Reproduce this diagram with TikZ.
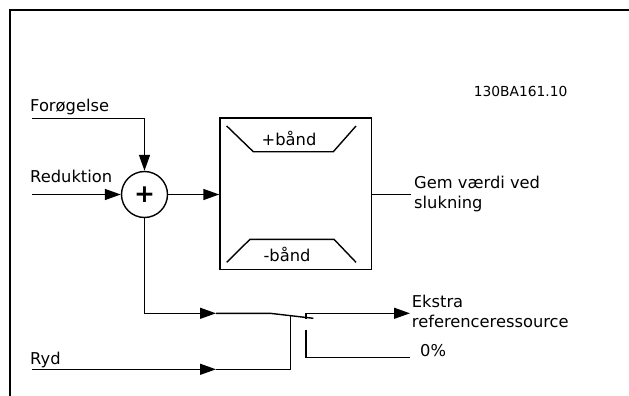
\documentclass[tikz,border=0pt]{standalone}
\usepackage{fontspec}
\setmainfont{DejaVu Sans}
\usetikzlibrary{arrows.meta}
\begin{document}
\begin{tikzpicture}[x=1pt,y=-1pt,
  ln/.style={line width=1.4pt},
  arr/.style={ln,-{Triangle[length=16pt,width=11pt]}},
  lbl/.style={inner sep=0pt,anchor=base west,font=\fontsize{16.3}{20}\selectfont},
  clbl/.style={inner sep=0pt,anchor=base,font=\fontsize{16.3}{20}\selectfont},
  sumnode/.style={circle,draw,line width=1.4pt,minimum size=46pt,inner sep=0pt,
    font=\bfseries\fontsize{25}{25}\selectfont},
  blk/.style={draw,line width=1.4pt,minimum width=151.5pt,minimum height=151.5pt,inner sep=0pt},
  frame/.style={line width=2pt}]
\useasboundingbox (0,0) rectangle (629,396);
\draw[frame] (10,396) -- (10,10) -- (629,10);

% labels
\node[lbl] (tforg) at (30,111.7) {Forøgelse};
\node[lbl] (tred) at (30,182.7) {Reduktion};
\node[lbl] (tryd) at (30,364) {Ryd};
\node[lbl] (tgem1) at (414,188) {Gem værdi ved};
\node[lbl] (tgem2) at (414,208) {slukning};
\node[lbl] (tek1) at (411.7,307.3) {Ekstra};
\node[lbl] (tek2) at (411.7,327.3) {referenceressource};
\node[lbl] (tzero) at (420,356.7) {0\%};
\node[inner sep=0pt,anchor=base,font=\fontsize{13.8}{16}\selectfont] (tid) at (520.6,96.7) {130BA161.10};

% summing junction and block
\node[sumnode] (sum) at (144.5,194.5) {+};
\node[blk] (box) at (295.75,193.75) {};
\draw[ln] (226.7,126) -- (253.3,151.7) -- (333.3,151.7) -- (356,126);
\draw[ln] (226.7,262.3) -- (250,239.3) -- (334,239.3) -- (356,262.3);
\node[clbl] (tplus) at (289,145) {+bånd};
\node[clbl] (tminus) at (287,261.7) {-bånd};

% inputs
\coordinate (forgin) at (32,118.3);
\coordinate (redin) at (32,194.5);
\draw[arr] (forgin) -| (sum.north);
\draw[arr] (redin) -- (sum.west);
\draw[arr] (sum.east) -- (sum.east -| box.west);
\coordinate (out) at (411,194.5);
\draw[ln] (out -| box.east) -- (out);

% switch
\coordinate (a1) at (216,313.3);
\coordinate (pivot) at (270,313.3);
\coordinate (bladeend) at (313.3,318.3);
\coordinate (act) at (290.7,315.7);
\coordinate (rydin) at (32,369.3);
\coordinate (a2) at (216,369.3);
\coordinate (c1) at (306,313.3);
\coordinate (c1t) at (306,318.5);
\coordinate (ekout) at (410,313.3);
\coordinate (c2) at (306,330);
\coordinate (zeroout) at (410,357.3);
\draw[arr] (sum.south) |- (a1);
\draw[ln] (a1) -- (pivot) -- (bladeend);
\draw[arr] (rydin) -- (a2);
\draw[ln] (a2) -| (act);
\draw[ln] (c1t) -- (c1);
\draw[arr] (c1) -- (ekout);
\draw[ln] (c2) |- (zeroout);
\end{tikzpicture}
\end{document}
